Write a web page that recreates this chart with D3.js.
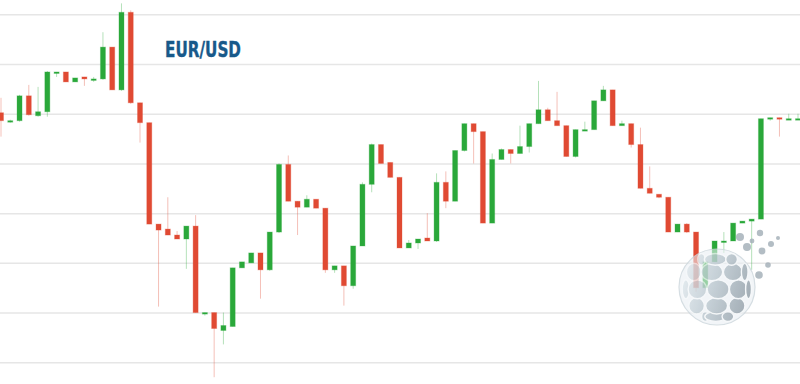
<!DOCTYPE html>
<meta charset="utf-8">
<style>
    body { margin: 0; background: #fff; }
    .grid .tick line { stroke: #e6e6e6; stroke-width: 1.5px; }
    .grid path { stroke-width: 0; }
    .title {
        font-family: "DejaVu Sans", sans-serif;
        font-weight: bold;
        font-size: 22px;
        fill: #18598a;
        stroke: #18598a;
        stroke-width: 0.4px;
    }
</style>
<body>
<svg width="800" height="384"></svg>
</body>
<script src="https://d3js.org/d3.v7.min.js"></script>
<script>

    // EUR/USD daily candles
    var opens = [1.1251,1.1242,1.1243,1.1268,1.1248,1.1252,1.1291,1.1292,1.1282,1.1287,
        1.1284,1.1285,1.1317,1.1274,1.1352,1.1261,1.1241,1.1139,1.1134,1.1128,
        1.1124,1.1137,1.1049,1.1050,1.1032,1.1036,1.1095,1.1100,1.1110,1.1093,
        1.1131,1.1199,1.1162,1.1156,1.1164,1.1155,1.1093,1.1097,1.1077,1.1117,
        1.1179,1.1219,1.1201,1.1186,1.1115,1.1120,1.1125,1.1122,1.1181,1.1162,
        1.1213,1.1240,1.1232,1.1140,1.1204,1.1214,1.1210,1.1217,1.1240,1.1254,
        1.1243,1.1238,1.1207,1.1233,1.1234,1.1263,1.1274,1.1238,1.1240,1.1219,
        1.1175,1.1169,1.1166,1.1131,1.1139,1.1131,1.1075,1.1101,1.1121,1.1122,
        1.1140,1.1142,1.1144,1.1245,1.1246,1.1244,1.1244];
    var highs = [1.1266,1.1244,1.1269,1.1279,1.1277,1.1293,1.1292,1.1292,1.1286,1.1287,
        1.1287,1.1332,1.1317,1.1361,1.1354,1.1261,1.1241,1.1139,1.1166,1.1132,
        1.1137,1.1148,1.1050,1.1050,1.1050,1.1095,1.1101,1.1110,1.1110,1.1131,
        1.1200,1.1208,1.1162,1.1168,1.1164,1.1155,1.1097,1.1097,1.1117,1.1181,
        1.1220,1.1219,1.1201,1.1186,1.1123,1.1124,1.1150,1.1190,1.1192,1.1213,
        1.1240,1.1240,1.1232,1.1210,1.1215,1.1214,1.1238,1.1240,1.1283,1.1256,
        1.1272,1.1238,1.1234,1.1242,1.1263,1.1278,1.1274,1.1243,1.1240,1.1236,
        1.1197,1.1169,1.1166,1.1139,1.1140,1.1131,1.1101,1.1122,1.1131,1.1140,
        1.1142,1.1144,1.1245,1.1246,1.1246,1.1250,1.1250];
    var lows = [1.1227,1.1241,1.1242,1.1248,1.1247,1.1247,1.1287,1.1282,1.1282,1.1278,
        1.1282,1.1284,1.1274,1.1273,1.1260,1.1221,1.1139,1.1056,1.1128,1.1124,
        1.1094,1.1050,1.1047,1.0985,1.1018,1.1036,1.1095,1.1100,1.1064,1.1092,
        1.1130,1.1162,1.1128,1.1156,1.1155,1.1090,1.1090,1.1057,1.1074,1.1117,
        1.1171,1.1200,1.1186,1.1115,1.1115,1.1114,1.1122,1.1121,1.1155,1.1162,
        1.1212,1.1200,1.1140,1.1140,1.1204,1.1200,1.1210,1.1211,1.1240,1.1243,
        1.1238,1.1207,1.1206,1.1233,1.1234,1.1263,1.1238,1.1238,1.1216,1.1175,
        1.1170,1.1165,1.1131,1.1131,1.1130,1.1071,1.1074,1.1101,1.1110,1.1122,
        1.1140,1.1093,1.1144,1.1243,1.1227,1.1244,1.1244];
    var closes = [1.1243,1.1243,1.1268,1.1249,1.1252,1.1292,1.1292,1.1282,1.1286,1.1285,
        1.1285,1.1317,1.1274,1.1352,1.1261,1.1241,1.1139,1.1133,1.1128,1.1124,
        1.1137,1.1050,1.1050,1.1034,1.1037,1.1095,1.1101,1.1110,1.1093,1.1131,
        1.1199,1.1162,1.1156,1.1164,1.1155,1.1093,1.1097,1.1077,1.1117,1.1179,
        1.1219,1.1200,1.1186,1.1115,1.1120,1.1124,1.1122,1.1181,1.1162,1.1213,
        1.1240,1.1232,1.1140,1.1204,1.1214,1.1210,1.1217,1.1240,1.1254,1.1243,
        1.1238,1.1207,1.1234,1.1234,1.1263,1.1274,1.1238,1.1240,1.1219,1.1175,
        1.1170,1.1166,1.1131,1.1139,1.1131,1.1075,1.1101,1.1122,1.1122,1.1140,
        1.1142,1.1144,1.1245,1.1246,1.1245,1.1245,1.1245];
    var yTicks = [1.1000, 1.1050, 1.1100, 1.1150, 1.1200, 1.1250, 1.1300, 1.1350];

    var UP = "#2aa83a", DOWN = "#e04a33";

    var svg = d3.select("svg"),
        width = +svg.attr("width"),
        height = +svg.attr("height");

    var data = opens.map(function (o, i) {
        return { i: i, open: o, high: highs[i], low: lows[i], close: closes[i] };
    });

    var x = d3.scaleLinear().domain([0, data.length - 1]).range([1, 798]);
    var y = d3.scaleLinear().domain([1.1000, 1.1350]).range([362.3, 14.3]);
    var bodyW = 5;

    // horizontal grid, no labels
    svg.append("g")
        .attr("class", "grid")
        .call(d3.axisRight(y)
            .tickValues(yTicks)
            .tickSize(width)
            .tickFormat(""));

    var candle = svg.append("g").selectAll("g")
        .data(data)
        .enter().append("g");

    function col(d) { return d.close >= d.open ? UP : DOWN; }

    // wicks
    candle.append("line")
        .attr("x1", function (d) { return x(d.i); })
        .attr("x2", function (d) { return x(d.i); })
        .attr("y1", function (d) { return y(d.high); })
        .attr("y2", function (d) { return y(d.low); })
        .attr("stroke", col)
        .attr("stroke-opacity", 0.35)
        .attr("stroke-width", 1);

    // bodies
    candle.append("rect")
        .attr("x", function (d) { return x(d.i) - bodyW / 2; })
        .attr("y", function (d) { return y(Math.max(d.open, d.close)); })
        .attr("width", bodyW)
        .attr("height", function (d) { return Math.max(1.5, Math.abs(y(d.open) - y(d.close))); })
        .attr("fill", col)
        .attr("stroke", col)
        .attr("stroke-opacity", 0.3)
        .attr("stroke-width", 1);

    // globe watermark, bottom right
    var gx = 717, gy = 287, R = 38;
    var defs = svg.append("defs");
    var lg = defs.append("linearGradient").attr("id", "globeGrad")
        .attr("gradientUnits", "userSpaceOnUse")
        .attr("x1", gx - R).attr("y1", gy - R * 0.3)
        .attr("x2", gx + R).attr("y2", gy + R * 0.3);
    lg.append("stop").attr("offset", "0%").attr("stop-color", "#e2eaef");
    lg.append("stop").attr("offset", "45%").attr("stop-color", "#bac7cf");
    lg.append("stop").attr("offset", "100%").attr("stop-color", "#8a97a1");

    var globe = svg.append("g").attr("opacity", 0.82);
    globe.append("circle")
        .attr("cx", gx).attr("cy", gy).attr("r", R)
        .attr("fill", "#eaf0f3")
        .attr("fill-opacity", 0.7)
        .attr("stroke", "#cdd7dd")
        .attr("stroke-width", 1.2);

    var dots = [];
    [-68, -36, -4, 28, 60].forEach(function (lat, row) {
        var n = Math.max(5, Math.round(9 * Math.cos(lat * Math.PI / 180)));
        for (var k = 0; k < n; k++) {
            var lon = -90 + (k + (row % 2) * 0.5) * 360 / n + 12;
            var la = lat * Math.PI / 180, lo = lon * Math.PI / 180;
            var depth = Math.cos(la) * Math.cos(lo);
            if (depth <= 0.05) continue;
            dots.push({
                cx: gx + R * 0.84 * Math.cos(la) * Math.sin(lo),
                cy: gy - R * 0.84 * Math.sin(la),
                rx: 11 * Math.pow(Math.max(0.15, Math.cos(lo)), 0.7),
                ry: 9.5 * Math.pow(Math.max(0.15, Math.cos(la)), 0.7)
            });
        }
    });
    globe.selectAll("ellipse.dot")
        .data(dots)
        .enter().append("ellipse")
        .attr("class", "dot")
        .attr("cx", function (d) { return d.cx; })
        .attr("cy", function (d) { return d.cy; })
        .attr("rx", function (d) { return d.rx; })
        .attr("ry", function (d) { return d.ry; })
        .attr("fill", "url(#globeGrad)")
        .attr("stroke", "#f4f7f9")
        .attr("stroke-width", 1.4);

    // dots flying off the globe (logo shape, offsets from its centre)
    var trail = [[23, -50, 4], [35, -46, 2.4], [43, -54, 3.2], [54, -43, 3], [61, -49, 2],
                 [45, -36, 3.4], [51, -22, 2.8], [42, -12, 3.8], [30, -40, 4]];
    globe.selectAll("circle.trail")
        .data(trail)
        .enter().append("circle")
        .attr("class", "trail")
        .attr("cx", function (d) { return gx + d[0]; })
        .attr("cy", function (d) { return gy + d[1]; })
        .attr("r", function (d) { return d[2]; })
        .attr("fill", "#a3afb8");

    svg.append("text")
        .attr("class", "title")
        .attr("x", 165)
        .attr("y", 57)
        .attr("textLength", 76)
        .attr("lengthAdjust", "spacingAndGlyphs")
        .text("EUR/USD");

</script>
